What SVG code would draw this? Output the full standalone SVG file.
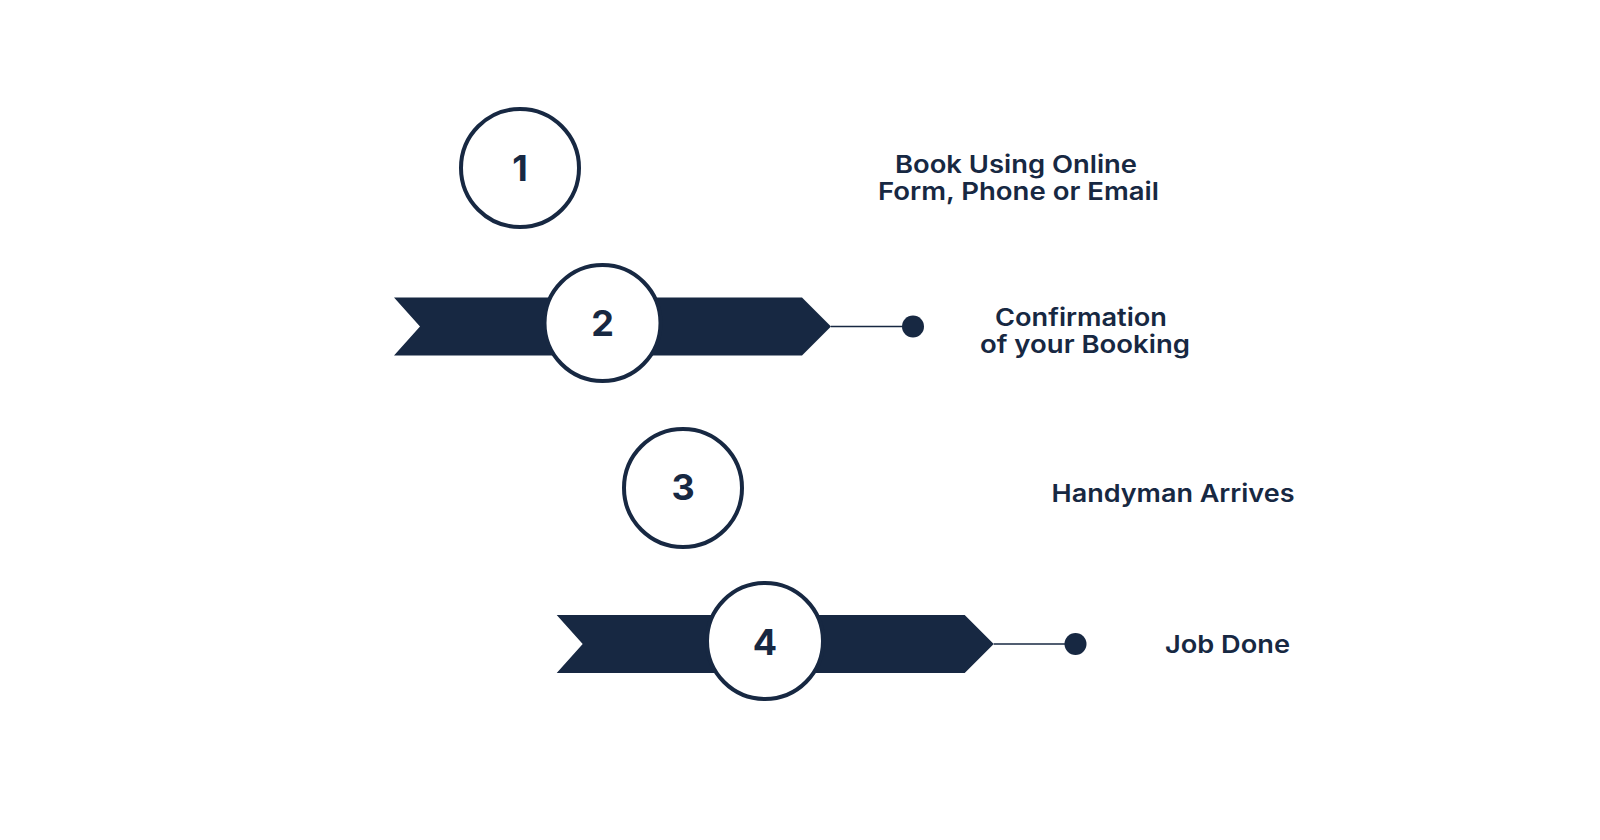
<svg xmlns="http://www.w3.org/2000/svg" width="1600" height="840" viewBox="0 0 1600 840">
  <style>
    .ring { fill: #ffffff; stroke: #172842; stroke-width: 4; }
    .band { fill: #172842; }
    .num { font-family: "Inter", "Open Sans", "DejaVu Sans", sans-serif; font-weight: 700; font-size: 36px; fill: #172842; text-anchor: middle; dominant-baseline: central; }
    .lbl { font-family: "Inter", "Open Sans", "DejaVu Sans", sans-serif; font-weight: 600; font-size: 24.5px; fill: #172842; text-anchor: middle; }
    .wire { stroke: #172842; stroke-width: 1.6; fill: none; }
    .dot { fill: #172842; }
  </style>
  <rect width="1600" height="840" fill="#ffffff"/>

  <g id="connectors">
    <line class="wire" x1="831" y1="326.5" x2="913" y2="326.5"/>
    <circle class="dot" cx="913" cy="326.5" r="11"/>
    <line class="wire" x1="993.7" y1="644" x2="1075.5" y2="644"/>
    <circle class="dot" cx="1075.5" cy="644" r="11"/>
  </g>

  <g id="step1">
    <circle class="ring" cx="520" cy="168" r="59"/>
    <text class="num" x="520" y="168">1</text>
    <text class="lbl" x="1016" y="173" textLength="242" lengthAdjust="spacingAndGlyphs">Book Using Online</text>
    <text class="lbl" x="1018.5" y="200" textLength="281" lengthAdjust="spacingAndGlyphs">Form, Phone or Email</text>
  </g>

  <g id="step2">
    <polygon class="band" points="394,297.5 802,297.5 831,326.5 802,355.5 394,355.5 420,326.5"/>
    <circle class="ring" cx="602.5" cy="323" r="58"/>
    <text class="num" x="602.5" y="323">2</text>
    <text class="lbl" x="1081" y="326" textLength="172" lengthAdjust="spacingAndGlyphs">Confirmation</text>
    <text class="lbl" x="1085" y="353" textLength="210" lengthAdjust="spacingAndGlyphs">of your Booking</text>
  </g>

  <g id="step3">
    <circle class="ring" cx="683" cy="488" r="59"/>
    <text class="num" x="683" y="487">3</text>
    <text class="lbl" x="1173" y="501.5" textLength="243" lengthAdjust="spacingAndGlyphs">Handyman Arrives</text>
  </g>

  <g id="step4">
    <polygon class="band" points="556.7,615 964.7,615 993.7,644 964.7,673 556.7,673 582.7,644"/>
    <circle class="ring" cx="765" cy="641" r="58"/>
    <text class="num" x="765" y="642">4</text>
    <text class="lbl" x="1227.5" y="653" textLength="125" lengthAdjust="spacingAndGlyphs">Job Done</text>
  </g>
</svg>
